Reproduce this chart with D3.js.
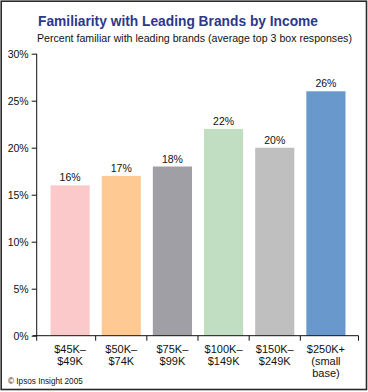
<!DOCTYPE html>
<html>
<head>
<meta charset="utf-8">
<script src="https://cdn.jsdelivr.net/npm/d3@7"></script>
<style>
  body { margin: 0; background: #fff; }
  svg text { font-family: 'Liberation Sans', Arial, sans-serif; }
</style>
</head>
<body>
<script>
const categories = ['$45K–|$49K', '$50K–|$74K', '$75K–|$99K', '$100K–|$149K', '$150K–|$249K', '$250K+|(small|base)']
const values = [16, 17, 18, 22, 20, 26]
const colors = ['#fbc9ca', '#fec993', '#a09fa5', '#c1dec3', '#bfbfbf', '#6898cc']
const yTicks = [0, 5, 10, 15, 20, 25, 30]

// shrink a text's font size until it spans the wanted width
const fit = (sel, target) => {
  const node = sel.node()
  const size = parseFloat(sel.attr('font-size'))
  const w = node.getComputedTextLength()
  sel.attr('font-size', (size * target / w).toFixed(2))
}

const chart = () => {
  const width = 368
  const height = 392
  const axisX = 36.7
  const axisEnd = 358.5
  const fs = 10.5

  const svg = d3.select('body')
    .append('svg')
    .attr('width', width)
    .attr('height', height)

  svg.append('rect')
    .attr('x', 1.2)
    .attr('y', 1.2)
    .attr('width', 365.3)
    .attr('height', 388.3)
    .attr('fill', 'none')
    .attr('stroke', '#2a2a2a')
    .attr('stroke-width', 1.6)

  const title = svg.append('text')
    .attr('x', 38)
    .attr('y', 26)
    .attr('fill', '#2e3788')
    .attr('font-weight', 'bold')
    .attr('font-size', 16)
    .text('Familiarity with Leading Brands by Income')
  fit(title, 280)

  const subtitle = svg.append('text')
    .attr('x', 37)
    .attr('y', 41.5)
    .attr('fill', '#111')
    .attr('font-size', 11)
    .text('Percent familiar with leading brands (average top 3 box responses)')
  fit(subtitle, 315)

  const escalaY = d3.scaleLinear()
    .domain([0, 30])
    .range([335.7, 53.7])

  const escalaX = d3.scaleBand()
    .domain(categories)
    .range([44.5, 351.5])
    .paddingInner(0.235)
    .paddingOuter(0.1175)

  const ejeY = d3.axisLeft(escalaY)
    .tickValues(yTicks)
    .tickFormat((d) => d + '%')
    .tickSize(5)
    .tickPadding(3)

  const contenedorEjeY = svg.append('g')
    .attr('transform', `translate(${axisX}, 0)`)
    .call(ejeY)

  contenedorEjeY.select('.domain').remove()
  contenedorEjeY.selectAll('line').attr('stroke', '#111')
  contenedorEjeY.selectAll('text')
    .attr('font-size', fs)
    .attr('fill', '#111')

  svg.append('line')
    .attr('x1', axisX)
    .attr('x2', axisX)
    .attr('y1', escalaY(30))
    .attr('y2', escalaY(0) + 5)
    .attr('stroke', '#111')

  svg.selectAll('rect.bar')
    .data(values)
    .join('rect')
    .attr('class', 'bar')
    .attr('x', (d, i) => escalaX(categories[i]))
    .attr('y', (d) => escalaY(d))
    .attr('width', escalaX.bandwidth())
    .attr('height', (d) => escalaY(0) - escalaY(d))
    .attr('fill', (d, i) => colors[i])

  svg.selectAll('text.value')
    .data(values)
    .join('text')
    .attr('class', 'value')
    .attr('x', (d, i) => escalaX(categories[i]) + escalaX.bandwidth() / 2)
    .attr('y', (d) => escalaY(d) - 4)
    .attr('text-anchor', 'middle')
    .attr('font-size', fs)
    .attr('fill', '#111')
    .text((d) => d + '%')

  // x axis with ticks between the bars
  svg.append('line')
    .attr('x1', axisX - 4)
    .attr('x2', axisEnd)
    .attr('y1', escalaY(0))
    .attr('y2', escalaY(0))
    .attr('stroke', '#111')

  const gap = escalaX.step() - escalaX.bandwidth()
  const tickXs = categories.slice(1).map((c) => escalaX(c) - gap / 2).concat([axisEnd])

  svg.selectAll('line.xtick')
    .data(tickXs)
    .join('line')
    .attr('class', 'xtick')
    .attr('x1', (d) => d)
    .attr('x2', (d) => d)
    .attr('y1', escalaY(0))
    .attr('y2', escalaY(0) + 5)
    .attr('stroke', '#111')

  const labels = svg.selectAll('text.cat')
    .data(categories)
    .join('text')
    .attr('class', 'cat')
    .attr('text-anchor', 'middle')
    .attr('font-size', fs + 0.5)
    .attr('fill', '#111')

  labels.selectAll('tspan')
    .data((d) => d.split('|').map((t) => ({ t, c: d })))
    .join('tspan')
    .attr('x', (d) => escalaX(d.c) + escalaX.bandwidth() / 2)
    .attr('y', (d, i) => 353 + i * 12)
    .text((d) => d.t)

  svg.append('text')
    .attr('x', 8)
    .attr('y', 384)
    .attr('font-size', 8.2)
    .attr('fill', '#111')
    .text('© Ipsos Insight 2005')
}

chart()
</script>
</body>
</html>
